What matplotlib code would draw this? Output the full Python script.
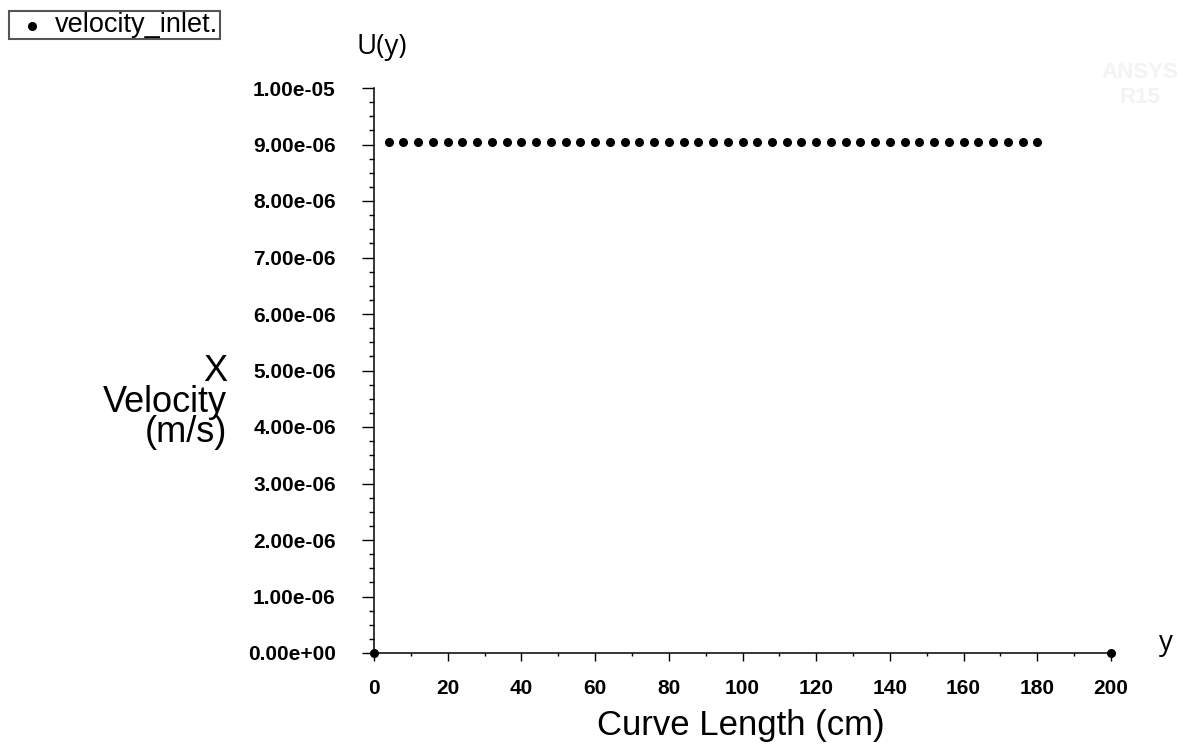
import numpy as np
import matplotlib.pyplot as plt
from matplotlib.patches import Rectangle
from matplotlib.ticker import MultipleLocator, FormatStrFormatter

# data
curve_length = [0] + list(range(4, 181, 4)) + [200]
x_velocity = [0.0] + [9.05e-06] * 45 + [0.0]

x_ticks = [0, 20, 40, 60, 80, 100, 120, 140, 160, 180, 200]
y_ticks = [0, 1e-06, 2e-06, 3e-06, 4e-06, 5e-06, 6e-06, 7e-06, 8e-06, 9e-06, 1e-05]

plt.rcParams['font.family'] = ['Liberation Sans', 'DejaVu Sans']

W, H = 1178, 753
fig = plt.figure(figsize=(W / 100, H / 100), dpi=100)
ax = fig.add_axes([374 / W, 1 - 653 / H, (1111 - 374) / W, (653 - 88) / H])

ax.plot(curve_length, x_velocity, linestyle='none', marker='o', markersize=5.5,
        color='black', clip_on=False, zorder=5)

ax.set_xlim(0, 200)
ax.set_ylim(0, 1e-05)
ax.set_xticks(x_ticks)
ax.set_yticks(y_ticks)
ax.xaxis.set_minor_locator(MultipleLocator(10))
ax.yaxis.set_minor_locator(MultipleLocator(2.5e-07))
ax.yaxis.set_major_formatter(FormatStrFormatter('%.2e'))

for s in ['top', 'right']:
    ax.spines[s].set_visible(False)
for s in ['left', 'bottom']:
    ax.spines[s].set_linewidth(1.1)

ax.tick_params(axis='y', which='major', length=8.5, width=1, pad=19, labelsize=15)
ax.tick_params(axis='y', which='minor', length=3.6, width=1)
ax.tick_params(axis='x', which='major', length=6, width=1, pad=13, labelsize=15)
ax.tick_params(axis='x', which='minor', length=2.5, width=1)
for lab in ax.get_xticklabels() + ax.get_yticklabels():
    lab.set_fontweight('bold')

fig.text(741 / W, 1 - 725 / H, 'Curve Length (cm)', fontsize=25, ha='center', va='center')
fig.text(227 / W, 1 - 402 / H, 'X\nVelocity\n(m/s)', fontsize=26, ha='right', va='center',
         multialignment='right', linespacing=0.82)

# legend box
fig.patches.append(Rectangle((9 / W, 1 - 39 / H), 211 / W, 28 / H, transform=fig.transFigure,
                             facecolor='white', edgecolor='#555555', linewidth=1.5))
fig.lines.append(plt.Line2D([32 / W], [1 - 26 / H], transform=fig.transFigure,
                            marker='o', markersize=5.5, color='black'))
fig.text(55 / W, 1 - 25 / H, 'velocity_inlet.', fontsize=19.5, ha='left', va='center')

fig.text(382 / W, 1 - 47 / H, 'U(y)', fontsize=20, family=['Open Sans', 'DejaVu Sans'],
         ha='center', va='center')
fig.text(1166 / W, 1 - 643 / H, 'y', fontsize=20, family=['Open Sans', 'DejaVu Sans'],
         ha='center', va='center')
fig.text(1140 / W, 1 - 85 / H, 'ANSYS\nR15', fontsize=16, color='#f3f3f3', ha='center',
         va='center', fontweight='bold')

fig.savefig('out.png', dpi=100)
